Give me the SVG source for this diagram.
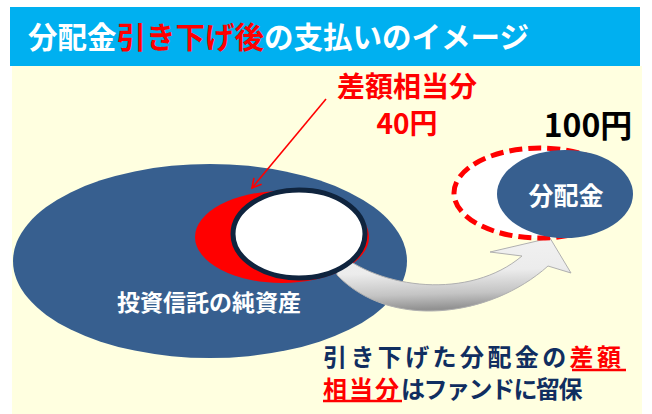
<svg xmlns="http://www.w3.org/2000/svg" width="652" height="414" viewBox="0 0 652 414">
<defs>
<style>
.t{font-family:"Noto Sans CJK JP","Noto Sans",sans-serif;font-weight:700}
.w{fill:#ffffff}
.r{fill:#ff0000}
.n{fill:#102e60}
</style>
<linearGradient id="metal" x1="0" y1="0" x2="0.1" y2="1">
<stop offset="0" stop-color="#f2f2f2"/>
<stop offset="0.5" stop-color="#ececec"/>
<stop offset="0.8" stop-color="#c4c4c4"/>
<stop offset="1" stop-color="#929292"/>
</linearGradient>
<marker id="ah" markerWidth="12" markerHeight="12" refX="10" refY="6" orient="auto" markerUnits="userSpaceOnUse">
<path d="M1,1 L10,6 L1,11" fill="none" stroke="#ff0000" stroke-width="1.6"/>
</marker>
</defs>
<rect x="0" y="0" width="652" height="414" fill="#ffffff"/>
<rect x="12" y="66" width="630" height="348" fill="#ffffe0"/>
<g id="title">
<rect x="10" y="7" width="630" height="59" fill="#00b0f0"/>
<text class="t" x="28" y="48" font-size="29.5"><tspan class="w">分配金</tspan><tspan class="r">引き下げ後</tspan><tspan class="w">の支払いのイメージ</tspan></text>
</g>
<g id="net-assets">
<ellipse cx="210" cy="261" rx="197" ry="97" fill="#375f8f"/>
<ellipse cx="282" cy="237" rx="87" ry="46" fill="#ff0000"/>
<text class="t w" x="209" y="311" font-size="23" text-anchor="middle">投資信託の純資産</text>
</g>
<g id="connectors">
<path d="M335 250 C380 290 470 300 522 256 L490 252 L550 238 L571 273 L548 266 C490 318 390 330 337 275 Z" fill="url(#metal)" stroke="#b0b0b0" stroke-width="1"/>
<line x1="326" y1="99" x2="252" y2="188" stroke="#ff0000" stroke-width="1.6" marker-end="url(#ah)"/>
</g>
<g id="payout-before">
<ellipse cx="299" cy="234" rx="66" ry="44" fill="#ffffff" stroke="#0f243e" stroke-width="5"/>
</g>
<g id="difference-label">
<text class="t r" x="407" y="97" font-size="28" text-anchor="middle">差額相当分</text>
<text class="t r" x="407" y="134" font-size="28" text-anchor="middle">40円</text>
</g>
<g id="payout-100">
<ellipse cx="540" cy="193" rx="86" ry="45" fill="#ffffff" stroke="#ff0000" stroke-width="5" stroke-dasharray="13 6"/>
<text class="t" x="588" y="137" font-size="32" text-anchor="middle" fill="#000000">100円</text>
</g>
<g id="payout-after">
<ellipse cx="565" cy="194" rx="68" ry="44" fill="#375f8f"/>
<text class="t w" x="566" y="205" font-size="25" text-anchor="middle">分配金</text>
</g>
<g id="note">
<text class="t" x="323" y="366" font-size="24" letter-spacing="3.4"><tspan class="n">引き下げた分配金の</tspan><tspan class="r">差額</tspan></text>
<text class="t" x="323" y="398" font-size="24"><tspan class="r" letter-spacing="2">相当分</tspan><tspan class="n" letter-spacing="-1.5">はファンドに留保</tspan></text>
<line x1="572" y1="370" x2="626" y2="370" stroke="#ff0000" stroke-width="2.5"/>
<line x1="323" y1="401" x2="402" y2="401" stroke="#ff0000" stroke-width="2.5"/>
</g>
</svg>
